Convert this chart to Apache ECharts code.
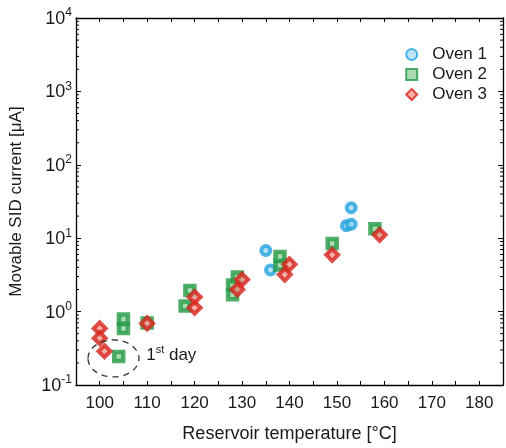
<!DOCTYPE html>
<html>
<head>
<meta charset="utf-8">
<style>
  html, body { margin: 0; padding: 0; background: #fff; }
  #chart { width: 506px; height: 448px; }
</style>
<script src="https://cdn.jsdelivr.net/npm/echarts@6/dist/echarts.min.js"></script>
</head>
<body>
<div id="chart"></div>
<script>
// values
const oven1Temp = [135, 136, 152, 153, 153]
const oven1Current = [6.8, 3.7, 14.8, 15.5, 26]
const oven2Temp = [104, 105, 105, 110, 118, 119, 128, 128, 129, 138, 138, 149, 158]
const oven2Current = [0.245, 0.59, 0.79, 0.7, 1.19, 1.94, 1.7, 2.3, 2.95, 4.3, 5.65, 8.5, 13.5]
const oven3Temp = [100, 100, 101, 110, 120, 120, 129, 130, 139, 140, 149, 159]
const oven3Current = [0.59, 0.435, 0.288, 0.69, 1.13, 1.58, 2.0, 2.73, 3.19, 4.4, 5.94, 11.1]

const xTicks = [100, 110, 120, 130, 140, 150, 160, 170, 180]
const yDecades = [-1, 0, 1, 2, 3, 4]

// minor ticks of the log axis: 2..9 inside each decade
const yMinor = []
for (let d = -1; d < 4; d++) {
  for (let k = 2; k <= 9; k++) yMinor.push(k * Math.pow(10, d))
}

const pairs = (xs, ys) => xs.map((x, i) => [x, ys[i]])

const FONT = 'Liberation Sans, Arial, sans-serif'
const TEXT = '#1a1a1a'

const chart = echarts.init(document.getElementById('chart'))

const xAxisBase = {
  type: 'value',
  min: 95,
  max: 185,
  interval: 5,
  splitLine: { show: false },
  axisLine: { lineStyle: { color: '#000', width: 1.3 } },
  axisTick: { inside: true, length: 4, lineStyle: { color: '#000', width: 1 } }
}

const yAxisBase = {
  type: 'log',
  logBase: 10,
  min: 0.1,
  max: 10000,
  splitNumber: 5,
  splitLine: { show: false },
  axisLine: { lineStyle: { color: '#000', width: 1.3 } },
  axisTick: { inside: true, length: 5, lineStyle: { color: '#000', width: 1 } }
}

const option = {
  animation: false,
  backgroundColor: '#fff',
  textStyle: { fontFamily: FONT },
  grid: { left: 75, right: 3, top: 18, bottom: 60 },
  legend: {
    data: ['Oven 1', 'Oven 2', 'Oven 3'],
    orient: 'vertical',
    right: 14,
    top: 41,
    itemWidth: 11,
    itemHeight: 11,
    itemGap: 3,
    textStyle: { fontSize: 17, color: TEXT, fontFamily: FONT, padding: [0, 0, 0, 10] }
  },
  xAxis: [
    Object.assign({}, xAxisBase, {
      position: 'bottom',
      name: 'Reservoir temperature [°C]',
      nameLocation: 'middle',
      nameGap: 40,
      nameTextStyle: { fontSize: 18, color: TEXT, fontFamily: FONT },
      axisLabel: {
        margin: 10,
        fontSize: 17,
        color: TEXT,
        formatter: v => (xTicks.indexOf(v) >= 0 ? String(v) : '')
      }
    }),
    Object.assign({}, xAxisBase, {
      position: 'top',
      axisLabel: { show: false }
    })
  ],
  yAxis: [
    Object.assign({}, yAxisBase, {
      position: 'left',
      name: 'Movable SID current [μA]',
      nameLocation: 'middle',
      nameGap: 51,
      nameTextStyle: { fontSize: 17, color: TEXT, fontFamily: FONT },
      axisLabel: {
        margin: 4,
        formatter: v => {
          const e = Math.round(Math.log10(v))
          return yDecades.indexOf(e) >= 0 ? '{b|10}{s|' + e + '}' : ''
        },
        rich: {
          b: { fontSize: 18, color: TEXT, fontFamily: FONT, verticalAlign: 'bottom', lineHeight: 20 },
          s: { fontSize: 12, color: TEXT, fontFamily: FONT, verticalAlign: 'bottom', lineHeight: 20, padding: [0, 0, 9, 0] }
        }
      }
    }),
    Object.assign({}, yAxisBase, {
      position: 'right',
      axisLabel: { show: false }
    })
  ],
  series: [
    {
      name: 'Oven 1',
      type: 'scatter',
      symbol: 'circle',
      symbolSize: 9,
      itemStyle: { color: '#a9dcf3', borderColor: '#22a3dd', borderWidth: 4 },
      data: pairs(oven1Temp, oven1Current)
    },
    {
      name: 'Oven 2',
      type: 'scatter',
      symbol: 'rect',
      symbolSize: 9,
      itemStyle: { color: '#93d3a2', borderColor: '#249a45', borderWidth: 4.5 },
      data: pairs(oven2Temp, oven2Current)
    },
    {
      name: 'Oven 3',
      type: 'scatter',
      symbol: 'diamond',
      symbolSize: 12,
      itemStyle: { color: '#f39a92', borderColor: '#d4231a', borderWidth: 4 },
      data: pairs(oven3Temp, oven3Current)
    },
    {
      name: 'minor',
      type: 'custom',
      silent: true,
      clip: false,
      data: yMinor.map(v => [95, v]),
      renderItem: (params, api) => {
        const v = api.value(1)
        const l = api.coord([95, v])
        const r = api.coord([185, v])
        const style = { stroke: '#000', lineWidth: 1 }
        return {
          type: 'group',
          children: [
            { type: 'line', shape: { x1: l[0], y1: l[1], x2: l[0] + 3, y2: l[1] }, style },
            { type: 'line', shape: { x1: r[0], y1: r[1], x2: r[0] - 3, y2: r[1] }, style }
          ]
        }
      }
    }
  ]
}

chart.setOption(option)

// "1st day" annotation: dashed ellipse round the first-day points
const c = chart.convertToPixel({ gridIndex: 0 }, [102.9, 0.23])
const t = chart.convertToPixel({ gridIndex: 0 }, [109.8, 0.262])
chart.setOption({
  graphic: [
    {
      type: 'ellipse',
      shape: { cx: c[0], cy: c[1], rx: 25.5, ry: 18.5 },
      style: { fill: 'none', stroke: '#333', lineWidth: 1.3, lineDash: [6, 5] },
      z: 10
    },
    {
      type: 'text',
      x: t[0],
      y: t[1],
      style: {
        text: '{a|1}{s|st}{a| day}',
        verticalAlign: 'middle',
        rich: {
          a: { fontSize: 17, fill: TEXT, fontFamily: FONT, verticalAlign: 'bottom', lineHeight: 19 },
          s: { fontSize: 11, fill: TEXT, fontFamily: FONT, verticalAlign: 'bottom', lineHeight: 19, padding: [0, 0, 8, 0] }
        }
      },
      z: 10
    }
  ]
})
</script>
</body>
</html>
